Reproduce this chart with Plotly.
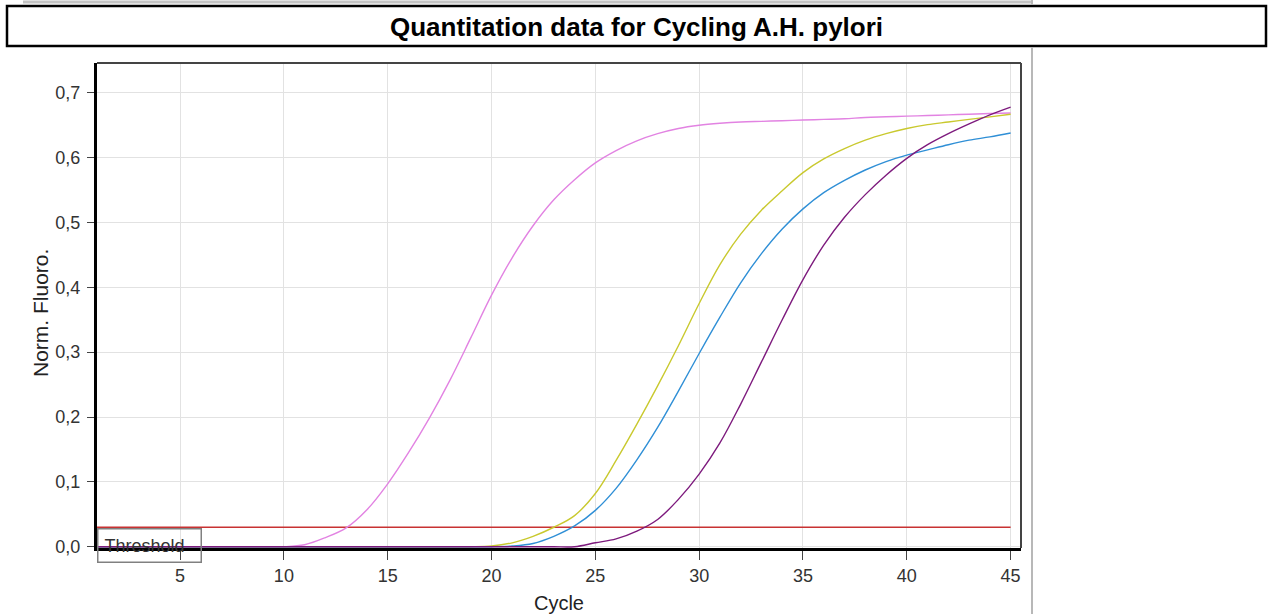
import plotly.graph_objects as go

cycles = list(range(1, 46))

pink = [0.0]*10 + [0.003, 0.014, 0.029, 0.057, 0.097, 0.145, 0.198, 0.257, 0.322, 0.388,
                   0.446, 0.495, 0.535, 0.566, 0.592, 0.611, 0.626, 0.637, 0.645, 0.650,
                   0.653, 0.655, 0.656, 0.657, 0.658, 0.659, 0.660, 0.662, 0.663, 0.664,
                   0.665, 0.666, 0.667, 0.668, 0.669]
yellow = [0.0]*19 + [0.001, 0.006, 0.016, 0.030, 0.048, 0.082, 0.133, 0.189, 0.248, 0.310,
                     0.375, 0.435, 0.482, 0.519, 0.549, 0.577, 0.598, 0.614, 0.627, 0.637,
                     0.645, 0.651, 0.655, 0.659, 0.663, 0.667]
blue = [0.0]*20 + [0.001, 0.005, 0.016, 0.032, 0.056, 0.090, 0.134, 0.184, 0.240, 0.298,
                   0.354, 0.407, 0.452, 0.490, 0.521, 0.546, 0.565, 0.581, 0.594, 0.604,
                   0.612, 0.620, 0.627, 0.632, 0.638]
purple = [0.0]*24 + [0.006, 0.012, 0.024, 0.042, 0.073, 0.112, 0.160, 0.220, 0.285, 0.350,
                     0.412, 0.465, 0.508, 0.543, 0.573, 0.599, 0.620, 0.637, 0.652, 0.666,
                     0.678]

threshold = 0.03
threshold_x = [1, 45]

series = [
    ("pink", pink, "#e283e2"),
    ("yellow", yellow, "#c9c92e"),
    ("blue", blue, "#2f8fd6"),
    ("purple", purple, "#7d1a7d"),
]

x_ticks = [5, 10, 15, 20, 25, 30, 35, 40, 45]
y_ticks = [0.0, 0.1, 0.2, 0.3, 0.4, 0.5, 0.6, 0.7]

FONT = "Liberation Sans, Arial, sans-serif"

fig = go.Figure()
fig.add_trace(go.Scatter(x=threshold_x, y=[threshold, threshold], mode="lines",
                         line=dict(color="#c83232", width=1.5), showlegend=False,
                         hoverinfo="skip"))
for name, vals, col in series:
    fig.add_trace(go.Scatter(x=cycles, y=vals, mode="lines", name=name,
                             line=dict(color=col, width=1.4, shape="spline", smoothing=1.0),
                             showlegend=False))

L, R, T, B = 97, 247, 63, 66
W, H = 1268, 614
pw = W - L - R
ph = H - T - B

def px2paper_x(px):
    return (px - L) / pw

def py2paper_y(py):
    return (H - B - py) / ph

fig.update_layout(
    width=W, height=H,
    margin=dict(l=L, r=R, t=T, b=B, pad=0),
    paper_bgcolor="white", plot_bgcolor="white",
    separators=", ",
    font=dict(family=FONT, color="#333333"),
    title=dict(text="<b>Quantitation data for Cycling A.H. pylori</b>",
               x=0.502, xanchor="center", y=1 - 27/614, yanchor="middle",
               yref="container", font=dict(family=FONT, size=26, color="black")),
    xaxis=dict(range=[1, 45.5], tickmode="array", tickvals=x_ticks,
               ticktext=[str(v) for v in x_ticks], automargin=False,
               showgrid=True, gridcolor="#e2e2e2", gridwidth=1,
               showline=True, linecolor="black", linewidth=3,
               ticks="outside", ticklen=9, tickcolor="#444444", tickwidth=1,
               ticklabelstandoff=0,
               tickfont=dict(size=18, color="#333333"),
               zeroline=False,
               title=dict(text="Cycle", font=dict(size=20, color="#222222"), standoff=15)),
    yaxis=dict(range=[-0.002, 0.746], tickmode="array", tickvals=y_ticks,
               ticktext=[f"{v:.1f}".replace(".", ",") for v in y_ticks], automargin=False,
               showgrid=True, gridcolor="#e2e2e2", gridwidth=1,
               showline=True, linecolor="black", linewidth=3,
               ticks="outside", ticklen=7, tickcolor="#444444", tickwidth=1,
               ticklabelstandoff=3,
               tickfont=dict(size=18, color="#333333"),
               zeroline=False),
)

shapes = []
# top and right borders of plot area
shapes.append(dict(type="line", xref="paper", yref="paper", x0=0, x1=1, y0=1, y1=1,
                   line=dict(color="#444444", width=2)))
shapes.append(dict(type="line", xref="paper", yref="paper", x0=1, x1=1, y0=0, y1=1,
                   line=dict(color="#444444", width=2)))
# title box
shapes.append(dict(type="rect", xref="paper", yref="paper",
                   x0=px2paper_x(7), x1=px2paper_x(1266), y0=py2paper_y(46), y1=py2paper_y(6),
                   line=dict(color="black", width=2.5)))
# window frame artifacts
shapes.append(dict(type="line", xref="paper", yref="paper",
                   x0=px2paper_x(23), x1=px2paper_x(1032), y0=py2paper_y(2), y1=py2paper_y(2),
                   line=dict(color="#c4c4c4", width=3)))
shapes.append(dict(type="line", xref="paper", yref="paper",
                   x0=px2paper_x(1032), x1=px2paper_x(1032), y0=py2paper_y(0), y1=py2paper_y(5),
                   line=dict(color="#b8b8b8", width=2)))
shapes.append(dict(type="line", xref="paper", yref="paper",
                   x0=px2paper_x(1032), x1=px2paper_x(1032), y0=py2paper_y(47), y1=py2paper_y(614),
                   line=dict(color="#b8b8b8", width=2)))
fig.update_layout(shapes=shapes)

# y-axis title
fig.add_annotation(xref="paper", yref="paper", x=px2paper_x(40), y=py2paper_y(313),
                   xanchor="center", yanchor="middle", text="Norm. Fluoro.", textangle=-90,
                   showarrow=False, font=dict(family=FONT, size=21, color="#222222"))

# threshold label box
fig.add_annotation(xref="paper", yref="paper", x=0, y=py2paper_y(545),
                   xanchor="left", yanchor="middle", text="&nbsp;Threshold", showarrow=False,
                   align="left", width=100, height=30, borderpad=1,
                   bordercolor="#808080", borderwidth=1.5,
                   font=dict(family=FONT, size=18, color="#333333"))

fig.write_html("out.html")
